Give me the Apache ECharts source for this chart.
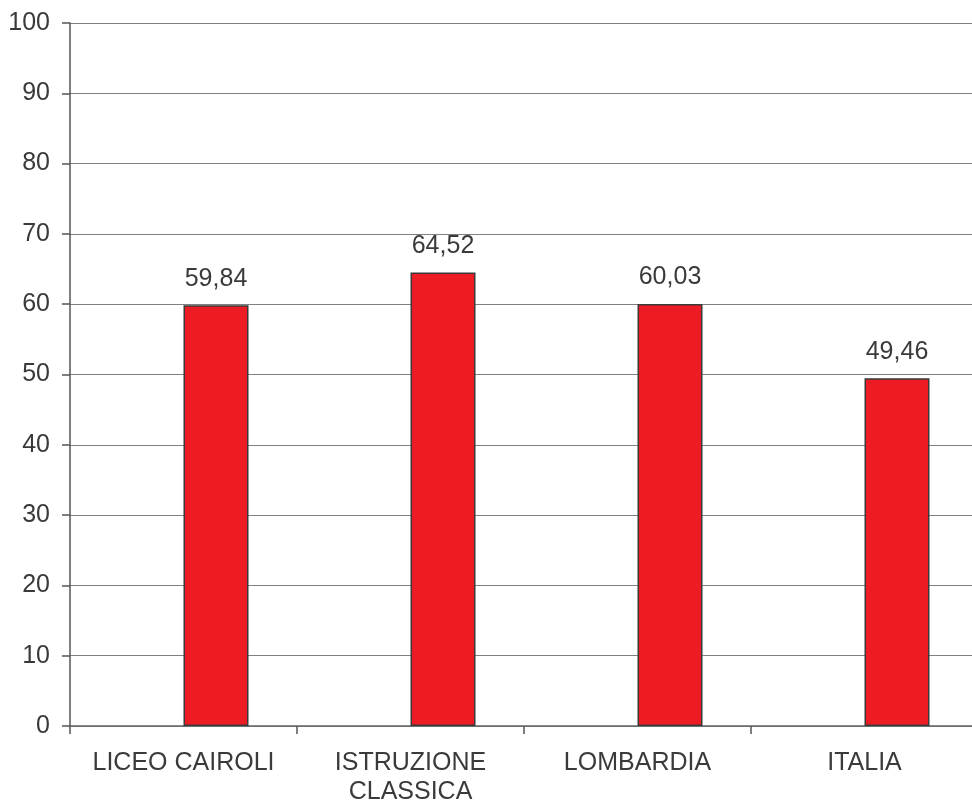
<!DOCTYPE html>
<html><head><meta charset="utf-8">
<script src="https://cdn.jsdelivr.net/npm/echarts@6/dist/echarts.min.js"></script>
<style>html,body{margin:0;padding:0;background:#fff;overflow:hidden}#w{width:972px;height:805px;overflow:hidden;position:relative}#c{position:absolute;left:0;top:0;width:978px;height:805px}</style>
</head><body><div id="w"><div id="c"></div></div>
<script>
const categories = ['LICEO CAIROLI', 'ISTRUZIONE\nCLASSICA', 'LOMBARDIA', 'ITALIA'];
const values = [59.84, 64.52, 60.03, 49.46];
const emptySeries = [null, null, null, null];

const chart = echarts.init(document.getElementById('c'), null, {renderer: 'canvas'});
chart.setOption({
  animation: false,
  backgroundColor: '#ffffff',
  grid: {left: 70, top: 23, right: 0, bottom: 79, containLabel: false, outerBoundsMode: 'none'},
  xAxis: {
    type: 'category', data: categories,
    axisLine: {lineStyle: {color: '#666666', width: 1.5}},
    axisTick: {show: true, length: 8, lineStyle: {color: '#555555', width: 1.5}},
    axisLabel: {color: '#3a3a3a', fontSize: 25, fontFamily: 'Liberation Sans, Arial', margin: 23, lineHeight: 29, interval: 0},
    splitLine: {show: false}
  },
  yAxis: {
    type: 'value', min: 0, max: 100, interval: 10,
    axisLine: {show: true, lineStyle: {color: '#555555', width: 1.5}},
    axisTick: {show: true, length: 8, lineStyle: {color: '#555555', width: 1.5}},
    axisLabel: {color: '#3a3a3a', fontSize: 25, fontFamily: 'Liberation Sans, Arial', margin: 20},
    splitLine: {show: true, lineStyle: {color: '#808080', width: 1}}
  },
  series: [
    {type: 'bar', data: emptySeries, barWidth: 65, barGap: '0%'},
    {type: 'bar', data: values, barWidth: 65, barGap: '0%',
     itemStyle: {color: '#ed1c24', borderColor: '#3a3a3a', borderWidth: 1.5},
     label: {show: true, position: 'top', distance: 14, color: '#3a3a3a', fontSize: 25,
             fontFamily: 'Liberation Sans, Arial',
             formatter: p => p.value.toFixed(2).replace('.', ',')}}
  ]
});
</script></body></html>
